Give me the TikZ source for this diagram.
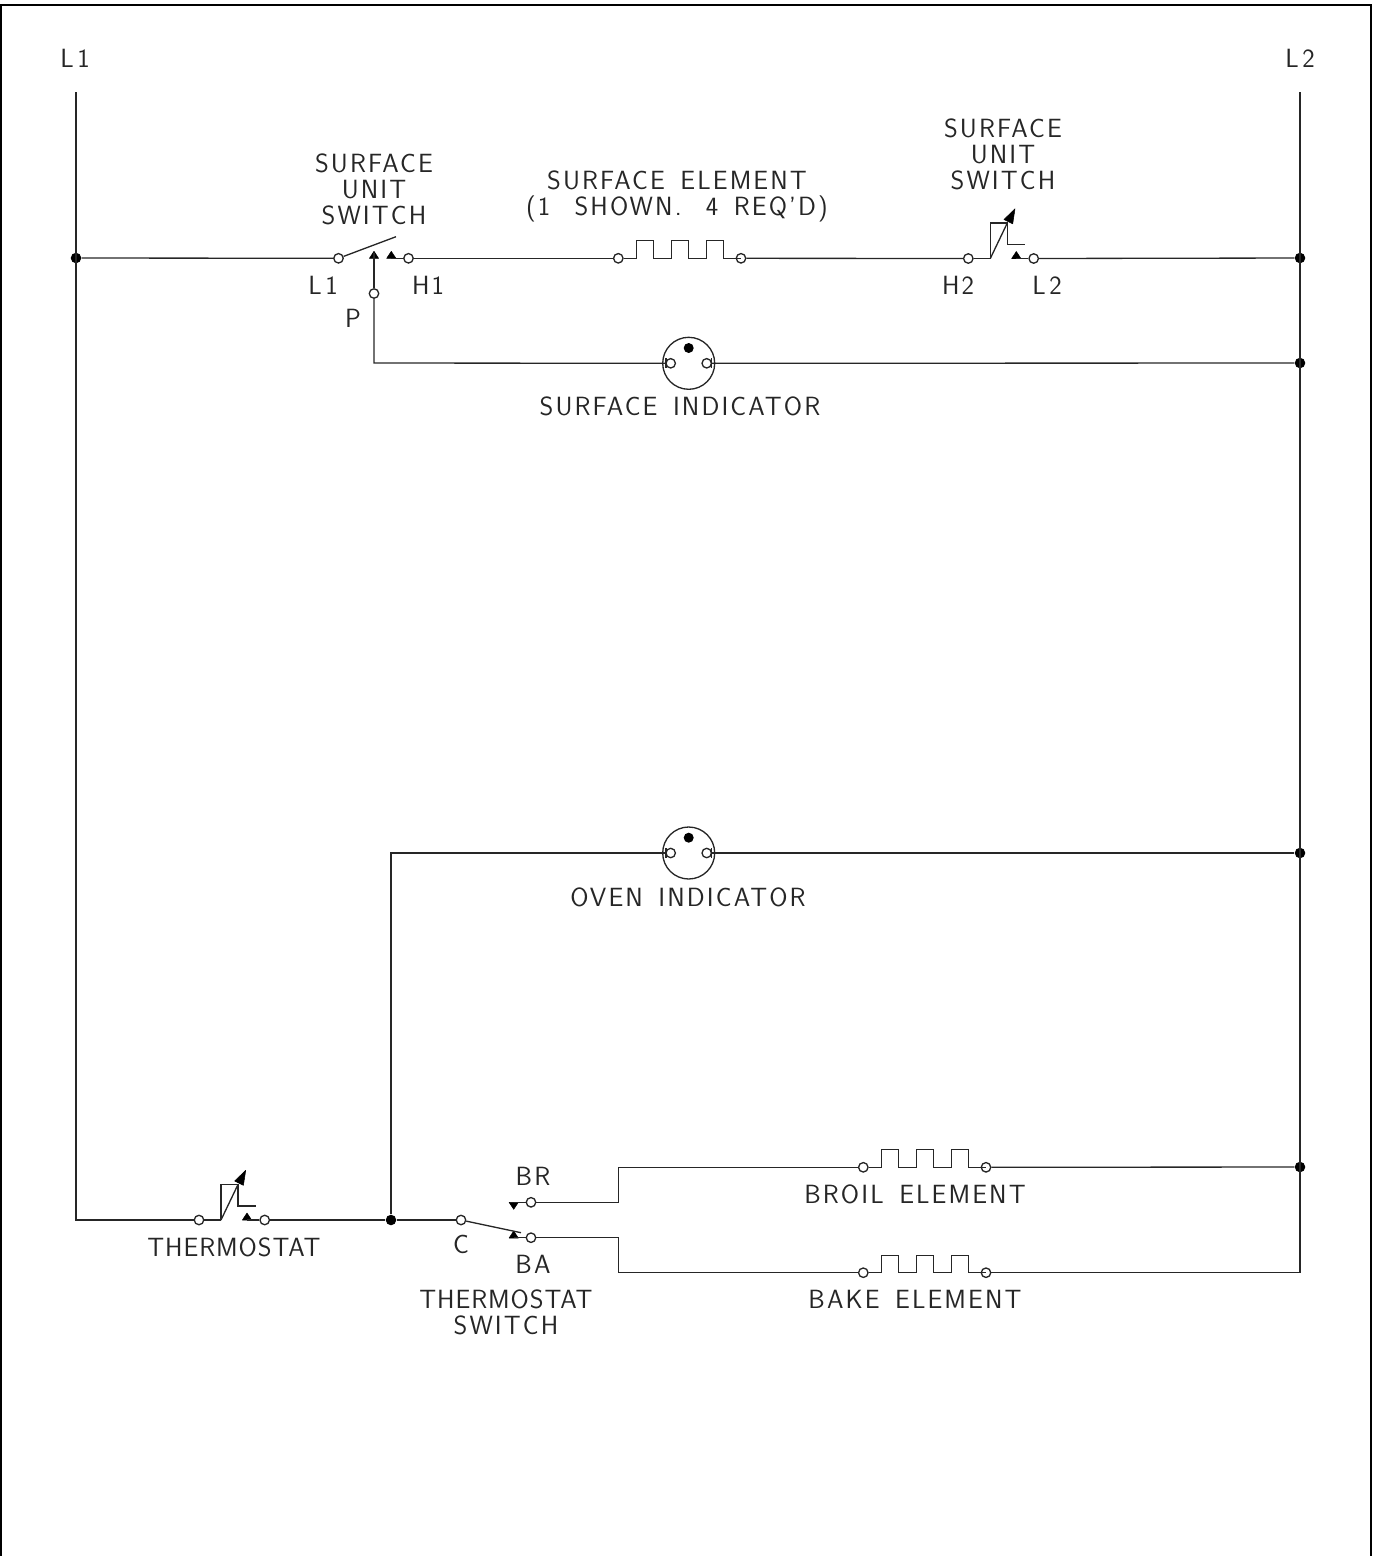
\documentclass[tikz,border=0pt]{standalone}
\usepackage{fontspec}
\setmainfont[LetterSpace=8,WordSpace=1.5]{Latin Modern Sans}
\newfontfamily\tightfont[LetterSpace=3.5,WordSpace=1.5]{Latin Modern Sans}
\usetikzlibrary{calc}
\newcommand{\heaterWave}[1]{% three square humps from a terminal on the left
  \draw[wire] (#1) -- ++(18,0) -- ++(0,-17.5) -- ++(17.5,0) -- ++(0,17.5) -- ++(17.5,0) -- ++(0,-17.5)
     -- ++(17.5,0) -- ++(0,17.5) -- ++(17.5,0) -- ++(0,-17.5) -- ++(17.5,0) -- ++(0,17.5) -- ++(17.5,0);
}
\newcommand{\upTri}[1]{\filldraw[tip fill] (#1) ++(-4.6,0) -- ++(9.2,0) -- ++(-4.6,-7) -- cycle;}
\newcommand{\thermBlade}[1]{% bimetal blade, measured from its foot
  \draw[wire] (#1) -- ++(0,-35.5) -- ++(17,0) -- ++(0,21.5) -- ++(17.7,0);
  \draw[wire] (#1) -- ++(17,-35.5);
  \filldraw[tip fill] (#1) ++(24.7,-49.7) -- ++(-11,10.7) -- ++(8.7,4.3) -- cycle;
}
\newcommand{\lampBody}[1]{% indicator lamp, the two terminals and the dot
  \draw[wire] (#1) circle (26);
  \fill (#1) ++(0,-15.3) circle (5);
  \draw[wire] (#1) ++(-18,0) circle (4.7);
  \draw[wire] (#1) ++(18,0) circle (4.7);
  \draw[wire] (#1) ++(-22.7,-5) -- ++(0,10);
  \draw[wire] (#1) ++(22.7,-5) -- ++(0,10);
}
\tikzset{
   wire/.style={line width=0.75pt,black!85},
   tip fill/.style={fill=black,draw=black,line width=0.3pt,line join=round},
   terminal node/.style={circle,draw=black!85,fill=white,line width=0.75pt,minimum size=5.4pt,inner sep=0pt},
   dot node/.style={circle,fill=black,minimum size=6pt,inner sep=0pt},
   bend node/.style={inner sep=0pt,outer sep=0pt,minimum size=0pt},
   label node/.style={font=\fontsize{15}{14.74}\selectfont,align=center,inner sep=0pt,text=black!85}
}
\begin{document}
\begin{tikzpicture}[x=0.02cm,y=-0.02cm]
\useasboundingbox (0,0) rectangle (1373,1556);
\draw[line width=0.9pt,black] (1,1556) -- (1,5) -- (1371,5) -- (1371,1556);

% mains
\coordinate (top1) at (76,92);
\coordinate (top2) at (1300,92);
\node[dot node] (dotL) at (76,258) {};
\node[dot node] (dotR) at (1300,258) {};
\node[dot node] (dotInd) at (1300,363) {};
\node[dot node] (dotOven) at (1300,853) {};
\node[dot node] (dotBroil) at (1300,1167) {};
\node[bend node] (endBake) at (1300,1272.7) {};
\node[label node] (labL1) at (75,58) {L\kern2pt 1};
\node[label node] (labL2) at (1300,58) {L\kern2pt 2};

% surface switch, left
\node[terminal node] (swL1) at (338.5,258.3) {};
\node[terminal node] (swP) at (374,293.5) {};
\node[terminal node] (swH1) at (408.5,258.3) {};
\node[bend node] (bladeEnd) at (396,236.7) {};
\node[bend node] (triP) at (374,253) {};
\node[bend node] (triH) at (391.3,258.3) {};
\node[bend node] (bendP) at (374,363) {};
\node[label node] (labSw1) at (374,189) {SURFACE\\UNIT\\SWITCH};
\node[label node] (labPinL) at (323,285) {L\kern2pt 1};
\node[label node] (labPinH) at (428,285) {H1};
\node[label node] (labPinP) at (353,318) {P};
\upTri{374,258.3}
\upTri{391.3,258.3}

% surface element
\node[terminal node] (elemA) at (618.3,258.3) {};
\node[terminal node] (elemB) at (741,258.3) {};
\heaterWave{elemA}
\node[label node] (labElem) at (677,196) {SURFACE ELEMENT\\(1 \kern5pt SHOWN. \kern5pt 4 REQ'D)};

% surface switch, right
\node[terminal node] (swH2) at (968.3,258.5) {};
\node[terminal node] (swL2) at (1033.7,258.5) {};
\node[bend node] (footR) at (990.3,258.5) {};
\node[bend node] (triR) at (1016.3,258.5) {};
\thermBlade{footR}
\upTri{1016.3,258.5}
\node[label node] (labSw2) at (1003,154) {SURFACE\\UNIT\\SWITCH};
\node[label node] (labPinH2) at (958,285) {H2};
\node[label node] (labPinL2) at (1047,285) {L\kern2pt 2};

% indicators
\node[bend node] (lampS) at (688.7,363.3) {};
\lampBody{lampS}
\node[label node] (labLampS) at (680,406) {SURFACE INDICATOR};
\node[bend node] (lampO) at (688.7,853) {};
\lampBody{lampO}
\node[label node] (labLampO) at (688,897) {OVEN INDICATOR};
\node[bend node] (bendO) at (391,853) {};

% thermostat
\node[bend node] (cornerL) at (76,1220) {};
\node[terminal node] (thA) at (199,1220) {};
\node[terminal node] (thB) at (264.7,1220) {};
\node[bend node] (footT) at (221,1220) {};
\node[bend node] (triT) at (247,1220) {};
\thermBlade{footT}
\upTri{247,1220}
\node[label node] (labTh) at (234,1247) {\tightfont THERMOSTAT};
\node[dot node] (dotC) at (391,1220) {};

% thermostat switch
\node[terminal node] (swC) at (461,1220) {};
\node[terminal node] (swBR) at (531,1202.3) {};
\node[terminal node] (swBA) at (531,1237.7) {};
\node[bend node] (bladeC) at (521,1232.7) {};
\node[bend node] (triBR) at (513.7,1202.3) {};
\filldraw[tip fill] (509.1,1202.3) -- ++(9.2,0) -- ++(-4.6,7) -- cycle;
\upTri{513.7,1238}
\node[label node] (labBR) at (533,1176) {BR};
\node[label node] (labC) at (461,1244) {C};
\node[label node] (labBA) at (533,1264) {BA};
\node[label node] (labThSw) at (506,1312) {{\tightfont THERMOSTAT}\\SWITCH};
\node[bend node] (jogBR) at (618.7,1202.3) {};
\node[bend node] (upBR) at (618.7,1167.3) {};
\node[bend node] (jogBA) at (618.7,1237.7) {};
\node[bend node] (dnBA) at (618.7,1272.7) {};

% broil and bake
\node[terminal node] (broilA) at (863.3,1167.3) {};
\node[terminal node] (broilB) at (986,1167.3) {};
\heaterWave{broilA}
\node[label node] (labBroil) at (915,1194) {BROIL ELEMENT};
\node[terminal node] (bakeA) at (863.3,1272.7) {};
\node[terminal node] (bakeB) at (986,1272.7) {};
\heaterWave{bakeA}
\node[label node] (labBake) at (915,1299) {BAKE ELEMENT};

\draw[wire] (top1) -- (cornerL.center) -- (thA);
\draw[wire] (top2) -- (endBake.center) -- (bakeB);
\draw[wire] (dotL) -- (swL1);
\draw[wire] (swL1) -- (bladeEnd.center);
\draw[wire] (triH.center) -- (swH1);
\draw[wire] (swH1) -- (elemA);
\draw[wire] (elemB) -- (swH2);
\draw[wire] (swH2) -- (footR.center);
\draw[wire] (triR.center) -- (swL2);
\draw[wire] (swL2) -- (dotR);
\draw[wire] (triP.center) -- (swP);
\draw[wire] (swP) -- (bendP.center) -- ($(lampS)+(-22.7,0)$);
\draw[wire] ($(lampS)+(22.7,0)$) -- (dotInd);
\draw[wire] (dotC) -- (bendO.center) -- ($(lampO)+(-22.7,0)$);
\draw[wire] ($(lampO)+(22.7,0)$) -- (dotOven);
\draw[wire] (thA) -- (footT.center);
\draw[wire] (triT.center) -- (thB);
\draw[wire] (thB) -- (dotC);
\draw[wire] (dotC) -- (swC);
\draw[wire] (swC) -- (bladeC.center);
\draw[wire] (triBR.center) -- (swBR);
\draw[wire] (513.7,1237.7) -- (swBA);
\draw[wire] (swBR) -- (jogBR.center) -- (upBR.center) -- (broilA);
\draw[wire] (swBA) -- (jogBA.center) -- (dnBA.center) -- (bakeA);
\draw[wire] (broilB) -- (dotBroil);
\end{tikzpicture}
\end{document}
